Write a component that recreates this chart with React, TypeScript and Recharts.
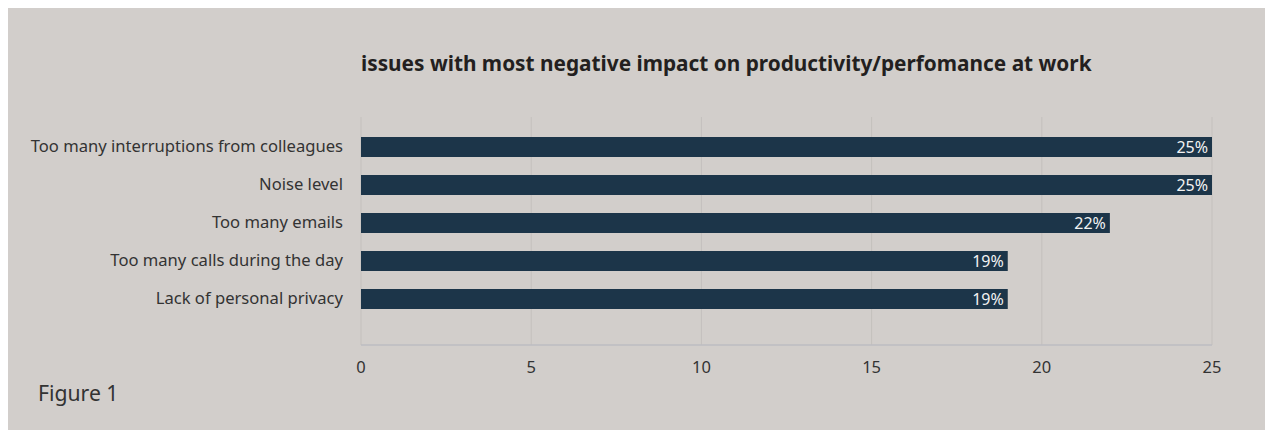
import React from "react";
import { BarChart, Bar, XAxis, YAxis, CartesianGrid, LabelList } from "recharts";

const categories = [
  "Too many interruptions from colleagues",
  "Noise level",
  "Too many emails",
  "Too many calls during the day",
  "Lack of personal privacy",
];
const values = [25, 25, 22, 19, 19];
const xTicks = [0, 5, 10, 15, 20, 25];
const title = "issues with most negative impact on productivity/perfomance at work";
const caption = "Figure 1";

const data = categories.map((c, i) => ({ name: c, value: values[i] }));
const FONT = "'Noto Sans', 'Open Sans', sans-serif";

export default function App() {
  return (
    <div
      style={{
        position: "relative",
        width: 1265,
        height: 422,
        background: "#d2cecb",
        fontFamily: FONT,
        overflow: "hidden",
      }}
    >
      <div
        style={{
          position: "absolute",
          left: 353,
          top: 41,
          fontSize: 20.8,
          fontWeight: 700,
          color: "#231f20",
          whiteSpace: "nowrap",
          lineHeight: "28px",
        }}
      >
        {title}
      </div>
      <div
        style={{
          position: "absolute",
          left: 30,
          top: 371,
          fontSize: 21.2,
          color: "#333",
          lineHeight: "28px",
        }}
      >
        {caption}
      </div>
      <BarChart
        width={1265}
        height={422}
        data={data}
        layout="vertical"
        margin={{ top: 109, right: 61, bottom: 47, left: 0 }}
        style={{ position: "absolute", left: 0, top: 0 }}
      >
        <CartesianGrid horizontal={false} vertical={true} stroke="#c4c0bd" />
        <XAxis
          type="number"
          domain={[0, 25]}
          ticks={xTicks}
          height={38}
          tickSize={0}
          tickMargin={16}
          axisLine={{ stroke: "#bcbcc2", strokeWidth: 1.5 }}
          tickLine={false}
          tick={{ fill: "#333", fontSize: 16.5, fontFamily: FONT }}
        />
        <YAxis
          type="category"
          dataKey="name"
          width={353}
          padding={{ top: 11, bottom: 27 }}
          tickSize={0}
          tickMargin={18}
          axisLine={false}
          tickLine={false}
          interval={0}
          tick={{ fill: "#333", fontSize: 16.6, fontFamily: FONT, dy: -1 }}
        />
        <Bar dataKey="value" fill="#1c3549" barSize={20} isAnimationActive={false}>
          <LabelList
            dataKey="value"
            position="insideRight"
            offset={4}
            formatter={(v: any) => `${v}%`}
            style={{ fill: "#f2f2f2", fontSize: 16, fontFamily: FONT }}
          />
        </Bar>
      </BarChart>
    </div>
  );
}
